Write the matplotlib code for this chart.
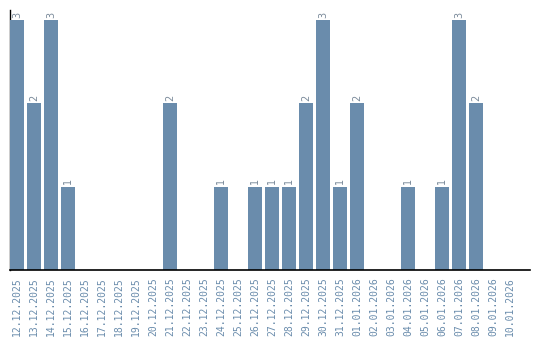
import matplotlib
matplotlib.use("Agg")
import matplotlib.pyplot as plt

dates = ["12.12.2025","13.12.2025","14.12.2025","15.12.2025","16.12.2025","17.12.2025",
         "18.12.2025","19.12.2025","20.12.2025","21.12.2025","22.12.2025","23.12.2025",
         "24.12.2025","25.12.2025","26.12.2025","27.12.2025","28.12.2025","29.12.2025",
         "30.12.2025","31.12.2025","01.01.2026","02.01.2026","03.01.2026","04.01.2026",
         "05.01.2026","06.01.2026","07.01.2026","08.01.2026","09.01.2026","10.01.2026"]
counts = [3,2,3,1,0,0,0,0,0,2,0,0,1,0,1,1,1,2,3,1,2,0,0,1,0,1,3,2,0,0]

bar_color = "#6a8cac"
text_color = "#6a8cac"

fig = plt.figure(figsize=(5.4, 3.4), dpi=100)
ax = fig.add_axes([10/540, 70/340, 520/540, 260/340])
x = list(range(len(dates)))
bars = ax.bar(x, counts, width=0.82, color=bar_color, zorder=3)
for xi, v in zip(x, counts):
    if v > 0:
        ax.text(xi, v + 0.03, str(v), rotation=90, ha="center", va="bottom",
                fontsize=7, color="#7a8a9a", zorder=4)
ax.set_xlim(-0.41, 30.18)
ax.set_ylim(0, 3.12)
ax.set_xticks(x)
ax.set_xticklabels(dates, rotation=90, fontsize=7, color=text_color, family="DejaVu Sans Mono")
ax.tick_params(axis="x", length=0, pad=5)
ax.set_yticks([])
for s in ["top", "right"]:
    ax.spines[s].set_visible(False)
ax.spines["left"].set_zorder(1)
ax.spines["bottom"].set_zorder(5)
ax.spines["bottom"].set_linewidth(1.2)
ax.spines["left"].set_linewidth(1.0)
fig.savefig("out.png", dpi=100)
